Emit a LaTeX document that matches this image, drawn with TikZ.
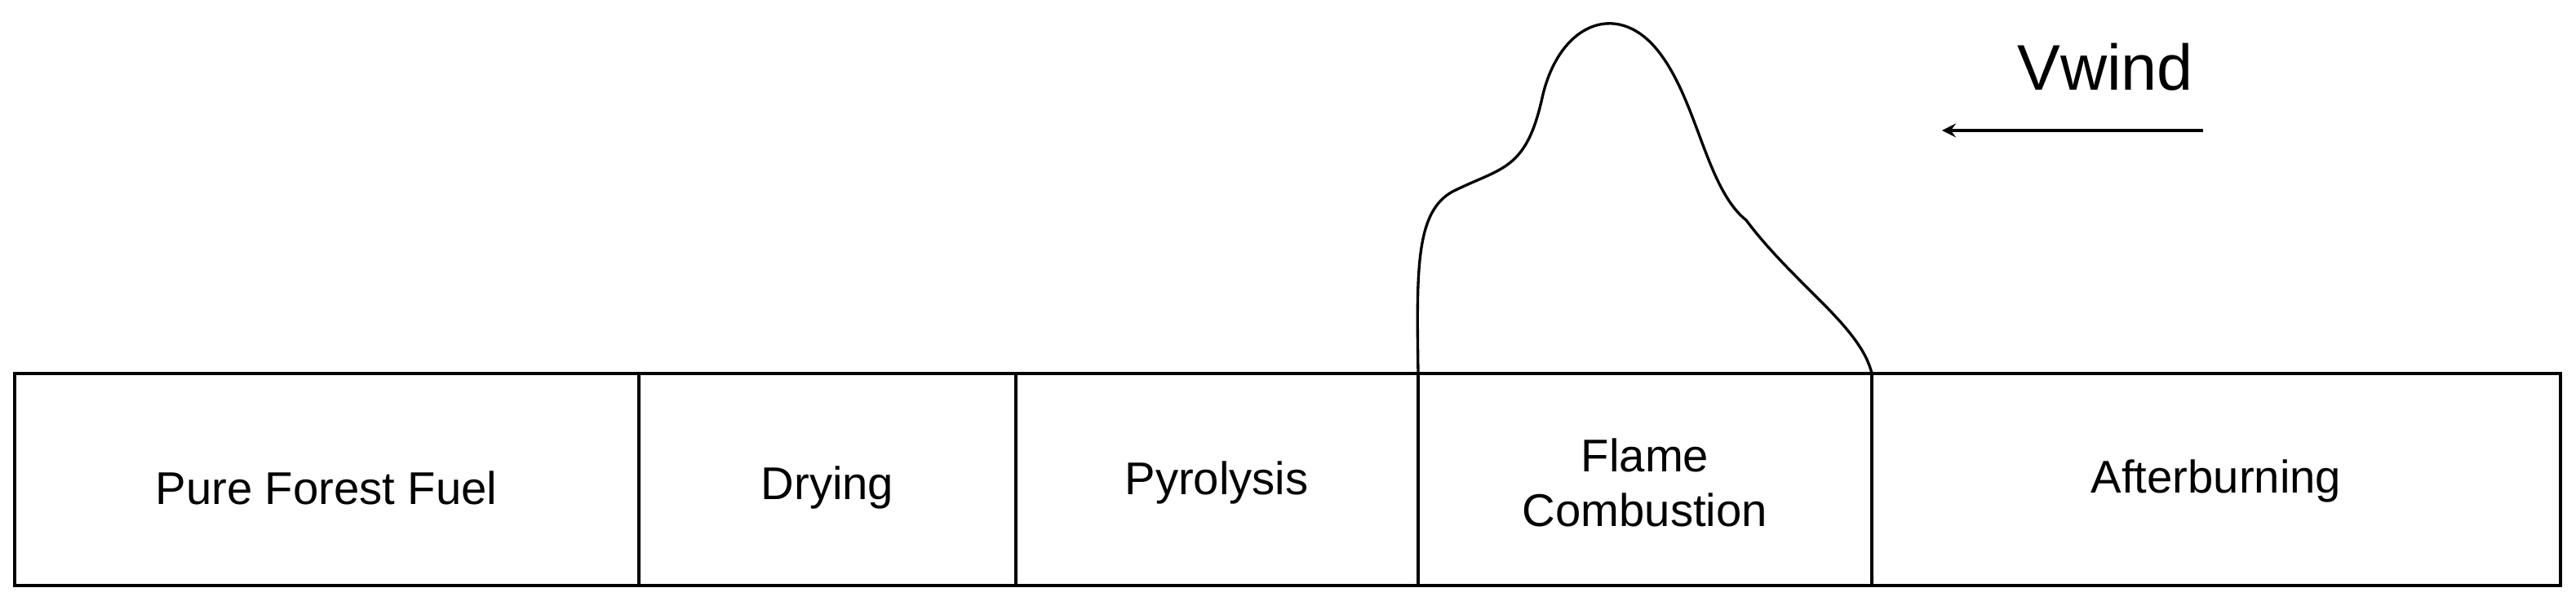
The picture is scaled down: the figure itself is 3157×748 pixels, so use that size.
\documentclass[tikz,border=0pt]{standalone}
\usepackage{fontspec}
\setmainfont{Liberation Sans}
\begin{document}
\begin{tikzpicture}[x=0.24pt,y=-0.24pt,line width=0.8pt,
  lbl/.style={font=\fontsize{13.5}{16}\selectfont,align=center}]
\useasboundingbox (0,0) rectangle (3157,748);
\draw (18,458) rectangle (3138,718);
\foreach \x in {783,1245,1738,2294} \draw (\x,458) -- (\x,718);
\node[lbl] (a) at (400,598) {Pure Forest Fuel};
\node[lbl] (b) at (1014,598) {Drying};
\node[lbl] (c) at (1491,592) {Pyrolysis};
\node[lbl] (d) at (2016,592) {Flame\\Combustion};
\node[lbl] (e) at (2716,590) {Afterburning};
\draw (1738,458) .. controls (1736,330) and (1735,260) .. (1780,235)
  .. controls (1840,205) and (1870,210) .. (1890,120)
  .. controls (1910,30) and (1980,0) .. (2030,60)
  .. controls (2080,120) and (2090,230) .. (2140,270)
  .. controls (2200,350) and (2280,400) .. (2294,458);
\coordinate (w1) at (2700,160);
\coordinate (w2) at (2380,160);
\draw[->,>=stealth] (w1) -- (w2);
\node[font=\fontsize{19}{22}\selectfont] (v) at (2580,82) {Vwind};
\end{tikzpicture}
\end{document}
